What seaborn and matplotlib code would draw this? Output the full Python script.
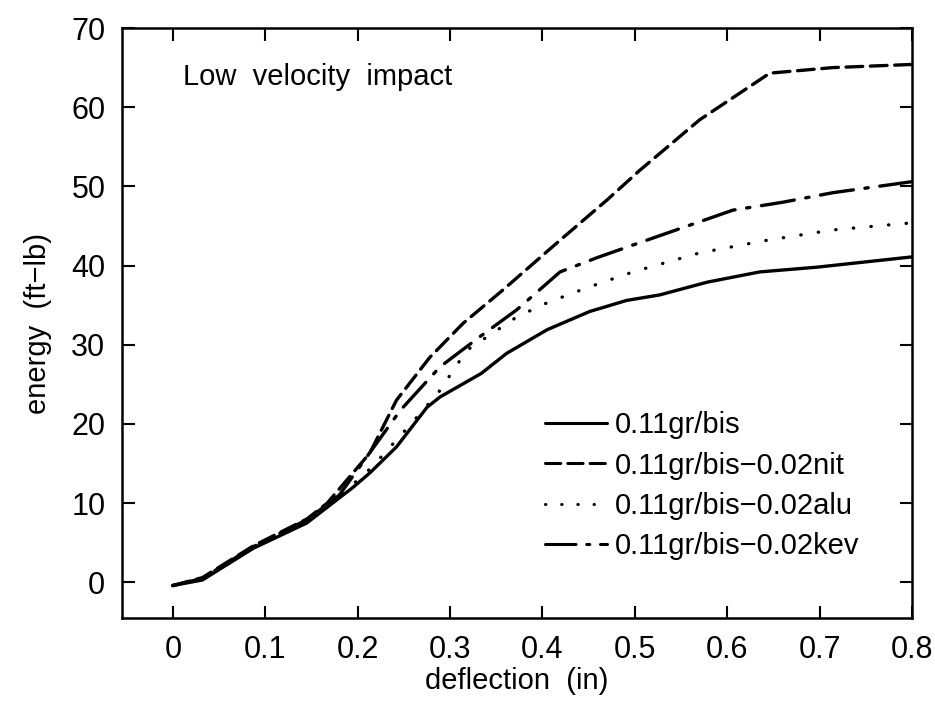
import numpy as np
import pandas as pd
import matplotlib
matplotlib.use("Agg")
import matplotlib.pyplot as plt
import seaborn as sns

sns.set_style("ticks")
plt.rcParams['font.family'] = ['Liberation Sans Narrow', 'Liberation Sans', 'DejaVu Sans']
plt.rcParams.update({'text.color': 'black', 'axes.labelcolor': 'black',
                     'xtick.color': 'black', 'ytick.color': 'black',
                     'axes.edgecolor': 'black'})

# values
x_bis = [0.0, 0.032, 0.087, 0.145, 0.195, 0.213, 0.242, 0.275, 0.289, 0.334, 0.361, 0.405, 0.451, 0.491, 0.527, 0.578, 0.635, 0.697, 0.8]
y_bis = [-0.4, 0.3, 4.3, 7.5, 12.0, 13.8, 17.1, 22.1, 23.4, 26.4, 28.9, 31.9, 34.2, 35.6, 36.3, 37.9, 39.2, 39.8, 41.1]

x_nit = [0.0, 0.032, 0.087, 0.145, 0.167, 0.213, 0.242, 0.278, 0.314, 0.357, 0.416, 0.47, 0.505, 0.57, 0.646, 0.714, 0.8]
y_nit = [-0.4, 0.6, 4.6, 8.0, 10.0, 16.3, 23.0, 28.4, 32.7, 36.9, 42.9, 48.3, 52.0, 58.4, 64.3, 65.0, 65.4]

x_alu = [0.0, 0.032, 0.087, 0.145, 0.18, 0.215, 0.25, 0.287, 0.318, 0.34, 0.372, 0.405, 0.448, 0.498, 0.57, 0.643, 0.714, 0.8]
y_alu = [-0.4, 0.5, 4.5, 7.8, 10.8, 14.5, 19.0, 23.9, 29.3, 31.0, 33.5, 35.3, 37.2, 39.2, 41.6, 43.2, 44.5, 45.4]

x_kev = [0.0, 0.032, 0.087, 0.145, 0.18, 0.217, 0.246, 0.289, 0.332, 0.372, 0.419, 0.459, 0.498, 0.606, 0.66, 0.714, 0.8]
y_kev = [-0.4, 0.5, 4.5, 7.9, 11.0, 17.0, 21.7, 27.2, 31.0, 34.4, 39.2, 41.0, 42.6, 47.0, 48.0, 49.2, 50.6]

labels = ['0.11gr/bis', '0.11gr/bis\u22120.02nit', '0.11gr/bis\u22120.02alu', '0.11gr/bis\u22120.02kev']
styles = ['-', (0, (5, 2.3)), (0, (0.1, 5.2)), (0, (10, 3.5, 1, 3.5))]

series = [(x_bis, y_bis), (x_nit, y_nit), (x_alu, y_alu), (x_kev, y_kev)]

fig = plt.figure(figsize=(9.35, 7.11), dpi=100)
ax = fig.add_axes([0.1305, 0.1308, 0.845, 0.8298])

for (xs, ys), lab, ls in zip(series, labels, styles):
    df = pd.DataFrame({'x': xs, 'y': ys})
    sns.lineplot(data=df, x='x', y='y', ax=ax, color='black', linewidth=2.4,
                 linestyle=ls, label=lab, sort=False, dash_capstyle='round')

ax.set_xlim(-0.055, 0.8)
ax.set_ylim(-4.5, 70)
ax.set_xticks(np.arange(0, 0.81, 0.1))
ax.set_xticklabels(['0', '0.1', '0.2', '0.3', '0.4', '0.5', '0.6', '0.7', '0.8'])
ax.set_yticks(np.arange(0, 71, 10))
ax.tick_params(direction='in', length=9, width=1.5, top=True, right=True,
               labelsize=22, pad=12)
for s in ax.spines.values():
    s.set_linewidth(1.8)

ax.set_xlabel('deflection  (in)', fontsize=21, labelpad=2)
ax.set_ylabel('energy  (ft\u2212lb)', fontsize=21, labelpad=14)

ax.text(0.077, 0.94, 'Low  velocity  impact', transform=ax.transAxes,
        fontsize=21, ha='left', va='top')

leg = ax.legend(loc='upper left', bbox_to_anchor=(0.52, 0.37), frameon=False,
                fontsize=21, handlelength=2.15, handletextpad=0.25,
                labelspacing=0.42, borderaxespad=0)
for h in leg.get_lines():
    h.set_linewidth(2.2)

fig.savefig('out.png', dpi=100)
